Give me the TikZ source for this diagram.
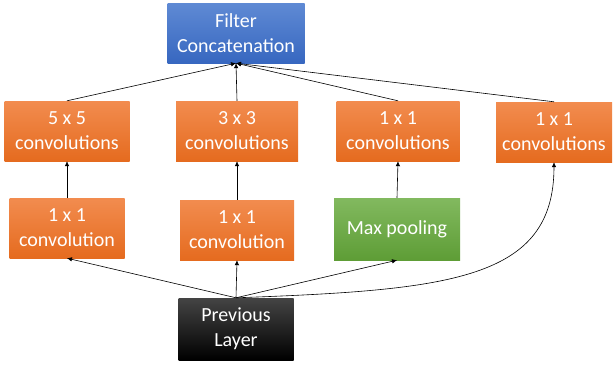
\documentclass[tikz,border=0pt]{standalone}
\usepackage{fontspec}
\setmainfont{Carlito}
\usetikzlibrary{arrows.meta}

\definecolor{orangetop}{HTML}{F28C4F}
\definecolor{orangebot}{HTML}{E56B1F}
\definecolor{bluetop}{HTML}{5F8AD4}
\definecolor{bluebot}{HTML}{3767C0}
\definecolor{greentop}{HTML}{82B95F}
\definecolor{greenbot}{HTML}{5E9D36}
\definecolor{blacktop}{HTML}{444444}
\definecolor{blackbot}{HTML}{000000}

\begin{document}
\begin{tikzpicture}[x=1pt,y=-1pt]
\tikzstyle{every node}=[text=white,font=\fontsize{20}{25}\selectfont,align=center,minimum height=60pt,inner sep=0pt];
\tikzstyle{orangebox}=[top color=orangetop,bottom color=orangebot];
\tikzstyle{bluebox}=[top color=bluetop,bottom color=bluebot];
\tikzstyle{greenbox}=[top color=greentop,bottom color=greenbot];
\tikzstyle{blackbox}=[top color=blacktop,bottom color=blackbot];
\tikzstyle{arrow}=[draw=black,line width=0.6pt,-{Latex[length=5pt,width=4.5pt]}];
\useasboundingbox (0,0) rectangle (616,367);

% output
\node[bluebox,minimum width=137pt] (concat) at (236,33) {Filter\\Concatenation};

% upper row
\node[orangebox,minimum width=125pt] (conv5) at (67,131) {5 x 5\\convolutions};
\node[orangebox,minimum width=122pt] (conv3) at (237,131) {3 x 3\\convolutions};
\node[orangebox,minimum width=123pt] (convp) at (398,131) {1 x 1\\convolutions};
\node[orangebox,minimum width=116pt] (conv1) at (554,132) {1 x 1\\convolutions};

% lower row
\node[orangebox,minimum width=115pt] (red5) at (67,228) {1 x 1\\convolution};
\node[orangebox,minimum width=114pt] (red3) at (237,230) {1 x 1\\convolution};
\node[greenbox,minimum width=126pt,minimum height=62pt] (pool) at (397,229) {Max pooling};

% input
\node[blackbox,minimum width=115pt,minimum height=62pt] (prev) at (236,329) {Previous\\Layer};

% connectors
\foreach \n in {conv5,conv3,convp,conv1}
	\draw[arrow] (\n.north) -- (concat.south);
\draw[arrow] (red5.north) -- (conv5.south);
\draw[arrow] (red3.north) -- (conv3.south);
\draw[arrow] (pool.north) -- (convp.south);
\foreach \n in {red5,red3,pool}
	\draw[arrow] (prev.north) -- (\n.south);
\draw[arrow] (prev.north) .. controls (450,290) and (554,280) .. (conv1.south);
\end{tikzpicture}
\end{document}
